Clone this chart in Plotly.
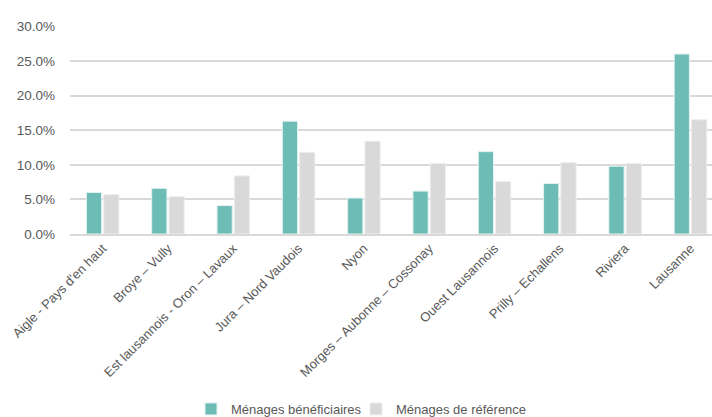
import plotly.graph_objects as go

regions = [
    "Aigle - Pays d'en haut",
    "Broye – Vully",
    "Est lausannois - Oron – Lavaux",
    "Jura – Nord Vaudois",
    "Nyon",
    "Morges – Aubonne – Cossonay",
    "Ouest Lausannois",
    "Prilly – Echallens",
    "Riviera",
    "Lausanne",
]
beneficiaires = [6.0, 6.6, 4.1, 16.3, 5.2, 6.2, 11.9, 7.3, 9.8, 26.0]
reference = [5.7, 5.4, 8.4, 11.8, 13.4, 10.2, 7.6, 10.3, 10.2, 16.5]
y_ticks = [0, 5, 10, 15, 20, 25, 30]
y_tick_labels = ["0.0%", "5.0%", "10.0%", "15.0%", "20.0%", "25.0%", "30.0%"]

font_family = "Liberation Sans Narrow, Arial Narrow, Liberation Sans, Arial, sans-serif"
text_color = "#595959"

fig = go.Figure()
fig.add_trace(go.Bar(
    name="Ménages bénéficiaires", x=regions, y=beneficiaires, legend="legend",
    marker=dict(color="#6DBDB6", line=dict(color="#E4F2F1", width=1)),
))
fig.add_trace(go.Bar(
    name="Ménages de référence", x=regions, y=reference, legend="legend2",
    marker=dict(color="#D9D9D9", line=dict(color="#EEEEEE", width=1)),
))

legend_common = dict(
    orientation="h", xref="container", xanchor="left",
    yref="container", y=8 / 417, yanchor="middle",
    font=dict(size=13, color=text_color), itemwidth=30,
    bgcolor="rgba(0,0,0,0)",
)

fig.update_layout(
    width=712, height=417,
    margin=dict(l=70, r=0, t=26, b=183),
    paper_bgcolor="white", plot_bgcolor="white",
    barmode="group", bargap=0.47, bargroupgap=0.12,
    font=dict(family=font_family, color=text_color, size=13),
    showlegend=True,
    legend=dict(x=191 / 712, **legend_common),
    legend2=dict(x=356 / 712, **legend_common),
    xaxis=dict(
        tickangle=-45, tickfont=dict(size=13, color=text_color),
        range=[-0.5, 9.33], showgrid=False, ticks="", automargin=False,
        showline=True, linecolor="#D9D9D9", linewidth=1.5,
    ),
    yaxis=dict(
        range=[0, 30.05], tickvals=y_ticks, ticktext=y_tick_labels,
        tickfont=dict(size=13.5, color=text_color), automargin=False,
        showgrid=True, gridcolor="#D9D9D9", gridwidth=1.5,
        zeroline=False, ticks="", ticklabelstandoff=14,
    ),
)

fig.write_html("out.html")
